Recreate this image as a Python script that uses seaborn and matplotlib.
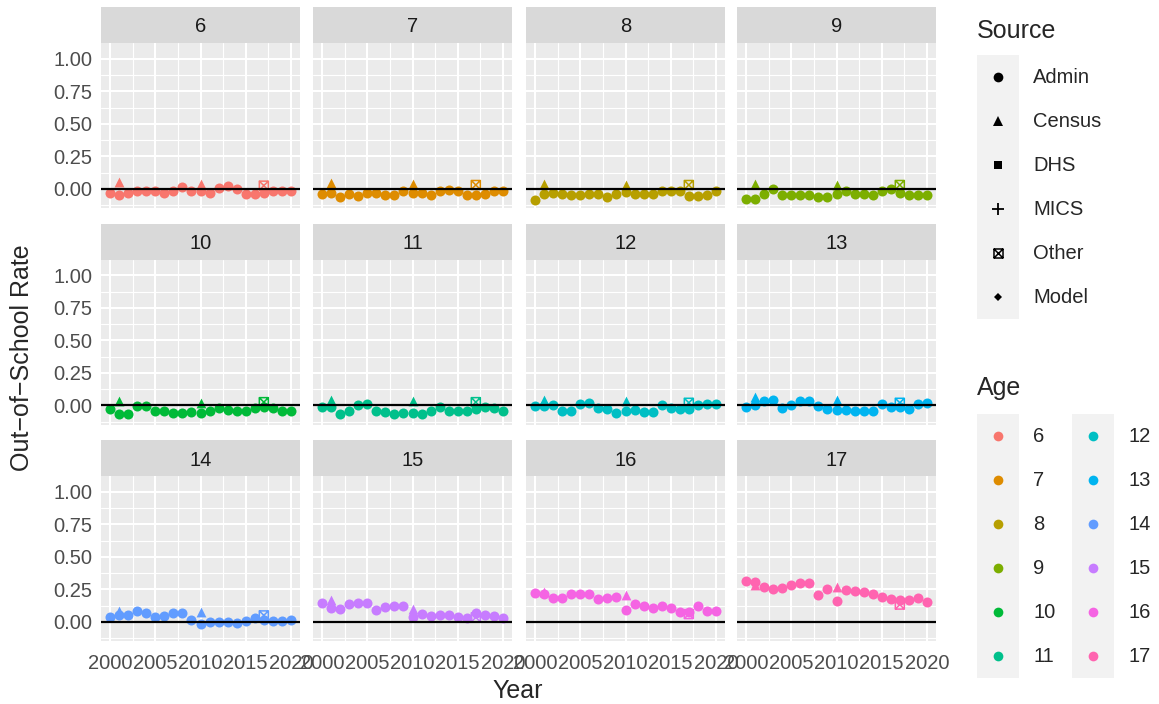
import numpy as np
import pandas as pd
import matplotlib
matplotlib.use("Agg")
import matplotlib.pyplot as plt
import seaborn as sns
from matplotlib.path import Path
from matplotlib.lines import Line2D
from matplotlib.patches import Rectangle
from matplotlib.legend_handler import HandlerBase

# ---------------------------------------------------------------- data
years = list(range(2000, 2021))
ages = [6, 7, 8, 9, 10, 11, 12, 13, 14, 15, 16, 17]

# administrative estimates, one value per year 2000-2020
admin_6 = [-0.028, -0.046, -0.033, -0.02, -0.02, -0.02, -0.033, -0.02, 0.013, -0.02, -0.02,
           -0.033, 0.01, 0.023, -0.003, -0.041, -0.041, -0.033, -0.02, -0.02, -0.02]
admin_7 = [-0.04, -0.035, -0.06, -0.04, -0.055, -0.035, -0.035, -0.05, -0.05, -0.015, -0.035,
           -0.035, -0.05, -0.02, -0.01, -0.02, -0.045, -0.045, -0.04, -0.015, -0.015]
admin_8 = [-0.085, -0.04, -0.035, -0.04, -0.05, -0.045, -0.04, -0.04, -0.06, -0.04, -0.025,
           -0.04, -0.04, -0.04, -0.02, -0.013, -0.02, -0.055, -0.055, -0.045, -0.02]
admin_9 = [-0.08, -0.08, -0.04, 0.0, -0.045, -0.045, -0.05, -0.05, -0.06, -0.065, -0.04,
           -0.013, -0.04, -0.04, -0.045, -0.02, -0.003, -0.03, -0.045, -0.045, -0.045]
admin_10 = [-0.025, -0.07, -0.07, -0.008, -0.008, -0.04, -0.045, -0.055, -0.055, -0.05, -0.06,
            -0.045, -0.018, -0.033, -0.04, -0.045, -0.018, -0.013, -0.018, -0.045, -0.045]
admin_11 = [-0.013, -0.013, -0.065, -0.04, 0.0, 0.013, -0.04, -0.05, -0.07, -0.06, -0.06,
            -0.065, -0.045, -0.013, -0.045, -0.04, -0.045, -0.025, -0.013, -0.018, -0.045]
admin_12 = [-0.008, -0.008, 0.0, -0.04, -0.04, 0.013, 0.02, -0.018, -0.025, -0.055, -0.04,
            -0.033, -0.05, -0.05, 0.0, -0.018, -0.025, -0.025, 0.0, 0.013, 0.008]
admin_13 = [-0.013, 0.005, 0.033, 0.045, -0.018, 0.005, 0.033, 0.033, -0.008, -0.025, -0.033,
            -0.033, -0.04, -0.04, -0.04, 0.013, -0.013, -0.013, -0.025, 0.013, 0.02]
admin_14 = [0.04, 0.05, 0.055, 0.08, 0.07, 0.035, 0.045, 0.07, 0.07, 0.015, -0.015,
            -0.003, -0.003, -0.003, -0.008, 0.005, 0.03, 0.015, 0.01, 0.003, 0.018]
admin_15 = [0.145, 0.11, 0.1, 0.135, 0.145, 0.145, 0.09, 0.115, 0.125, 0.12, 0.035,
            0.06, 0.045, 0.05, 0.055, 0.035, 0.03, 0.07, 0.05, 0.045, 0.03]
admin_16 = [0.223, 0.215, 0.185, 0.18, 0.215, 0.215, 0.215, 0.175, 0.18, 0.19, 0.095,
            0.14, 0.12, 0.11, 0.12, 0.105, 0.075, 0.075, 0.12, 0.087, 0.08]
admin_17 = [0.318, 0.305, 0.267, 0.255, 0.26, 0.285, 0.297, 0.297, 0.208, 0.25, 0.157,
            0.246, 0.236, 0.228, 0.215, 0.19, 0.177, 0.165, 0.17, 0.185, 0.15]
admin_by_age = [admin_6, admin_7, admin_8, admin_9, admin_10, admin_11,
                admin_12, admin_13, admin_14, admin_15, admin_16, admin_17]

# census rounds (2001, 2010) and one other survey (2017), listed by age 6..17
census_2001 = [0.05, 0.045, 0.035, 0.035, 0.03, 0.04, 0.045, 0.065, 0.085, 0.17, 0.23, 0.287]
census_2010 = [0.04, 0.04, 0.03, 0.03, 0.02, 0.035, 0.035, 0.045, 0.075, 0.10, 0.21, 0.27]
other_2017 = [0.025, 0.03, 0.03, 0.03, 0.025, 0.025, 0.02, 0.02, 0.05, 0.035, 0.06, 0.133]

source_labels = ["Admin", "Census", "DHS", "MICS", "Other", "Model"]
age_colors = ["#F8766D", "#DE8C00", "#B79F00", "#7CAE00", "#00BA38", "#00C08B",
              "#00BFC4", "#00B4F0", "#619CFF", "#C77CFF", "#F564E3", "#FF64B0"]

x_ticks = [2000, 2005, 2010, 2015, 2020]
x_minor = [2002.5, 2007.5, 2012.5, 2017.5]
y_ticks = [0.0, 0.25, 0.5, 0.75, 1.0]
y_minor = [-0.125, 0.125, 0.375, 0.625, 0.875]
y_tick_labels = ["0.00", "0.25", "0.50", "0.75", "1.00"]

rows = []
for age, vals in zip(ages, admin_by_age):
    for yr, v in zip(years, vals):
        rows.append((age, yr, v, "Admin"))
for age, c1, c2, o in zip(ages, census_2001, census_2010, other_2017):
    rows.append((age, 2001, c1, "Census"))
    rows.append((age, 2010, c2, "Census"))
    rows.append((age, 2017, o, "Other"))
df = pd.DataFrame(rows, columns=["Age", "Year", "Rate", "Source"])

# ---------------------------------------------------------------- style
sns.set_style("white")
plt.rcParams["font.family"] = ["Liberation Sans", "DejaVu Sans"]

W, H = 1159, 704
fig = plt.figure(figsize=(W / 100, H / 100), dpi=100)

col_left = [101, 313, 526, 737]
row_top = [43, 259.5, 476]
panel_w, panel_h, strip_h = 199, 165, 36

# square with a cross inside (open)
box_x = Path([(-1, -1), (1, -1), (1, 1), (-1, 1), (-1, -1), (-1, -1), (1, 1), (-1, 1), (1, -1)],
             [Path.MOVETO, Path.LINETO, Path.LINETO, Path.LINETO, Path.CLOSEPOLY,
              Path.MOVETO, Path.LINETO, Path.MOVETO, Path.LINETO])

tick_col = "#333333"
label_col = "#4D4D4D"

for i, age in enumerate(ages):
    r, c = divmod(i, 4)
    ax = fig.add_axes([col_left[c] / W, 1 - (row_top[r] + panel_h) / H, panel_w / W, panel_h / H])
    ax.set_facecolor("#EBEBEB")
    for s in ax.spines.values():
        s.set_visible(False)
    ax.set_xlim(1999.0, 2021.0)
    ax.set_ylim(-0.147, 1.122)
    ax.set_xticks(x_ticks)
    ax.set_xticks(x_minor, minor=True)
    ax.set_yticks(y_ticks)
    ax.set_yticks(y_minor, minor=True)
    ax.set_yticklabels(y_tick_labels)
    ax.grid(which="major", color="white", linewidth=1.5)
    ax.grid(which="minor", color="white", linewidth=0.8)
    ax.set_axisbelow(True)
    ax.tick_params(which="minor", length=0)
    ax.tick_params(which="major", length=3.8, width=0.85, color=tick_col,
                   labelsize=14.5, labelcolor=label_col)
    ax.tick_params(axis="y", pad=2.5)
    ax.tick_params(axis="x", pad=5.5)
    if c != 0:
        ax.tick_params(axis="y", length=0, labelleft=False)
    if r != 2:
        ax.tick_params(axis="x", length=0, labelbottom=False)

    col = age_colors[i]
    sub = df[df["Age"] == age]
    sns.scatterplot(data=sub[sub["Source"] == "Admin"], x="Year", y="Rate", color=col,
                    marker="o", s=52, linewidth=0, ax=ax, legend=False)
    sns.scatterplot(data=sub[sub["Source"] == "Census"], x="Year", y="Rate", color=col,
                    marker="^", s=50, linewidth=0, ax=ax, legend=False)
    sns.scatterplot(data=sub[sub["Source"] == "Other"], x="Year", y="Rate", color=col,
                    marker=box_x, s=42, facecolor="none", edgecolor=col, linewidth=1.1,
                    ax=ax, legend=False)
    ax.axhline(0, color="black", linewidth=1.6, zorder=3)
    ax.set_xlabel("")
    ax.set_ylabel("")

    # facet strip
    ax.add_patch(Rectangle((0, 1), 1, strip_h / panel_h, transform=ax.transAxes,
                           facecolor="#D9D9D9", edgecolor="none", clip_on=False))
    ax.text(0.5, 1 + (strip_h / 2 - 2) / panel_h, str(age), transform=ax.transAxes,
            ha="center", va="center", fontsize=14.5, color="#1A1A1A")

fig.text(22 / W, 1 - 358 / H, "Out\u2212of\u2212School Rate", rotation=90,
         ha="center", va="center", fontsize=18)
fig.text(518 / W, 1 - 691 / H, "Year", ha="center", va="center", fontsize=18)


# ---------------------------------------------------------------- legends
class KeyHandler(HandlerBase):
    def create_artists(self, legend, orig_handle, xdescent, ydescent, width, height,
                       fontsize, trans):
        bg = Rectangle((-xdescent, -ydescent), width, height, facecolor="#F2F2F2",
                       edgecolor="none", transform=trans)
        mk = Line2D([width / 2 - xdescent], [height / 2 - ydescent],
                    marker=orig_handle.get_marker(),
                    markersize=orig_handle.get_markersize(),
                    markerfacecolor=orig_handle.get_markerfacecolor(),
                    markeredgecolor=orig_handle.get_markeredgecolor(),
                    markeredgewidth=orig_handle.get_markeredgewidth(),
                    linestyle="none", transform=trans)
        return [bg, mk]


def key(marker, size, color="black", face=None, mew=0.0):
    return Line2D([], [], marker=marker, markersize=size, linestyle="none",
                  markerfacecolor=color if face is None else face,
                  markeredgecolor=color, markeredgewidth=mew)


source_handles = [key("o", 7.0), key("^", 7.0), key("s", 6.3),
                  key("+", 8.5, mew=1.3), key(box_x, 6.5, face="none", mew=1.1),
                  key("D", 4.3)]
age_handles = [key("o", 7.0, color=c) for c in age_colors]

leg_kw = dict(loc="upper left", frameon=False, borderpad=0, borderaxespad=0,
              labelspacing=0, handlelength=2.085, handleheight=2.985,
              handletextpad=0.7, fontsize=14.5,
              handler_map={Line2D: KeyHandler()})

fig.legend(source_handles, source_labels, bbox_to_anchor=(977 / W, 1 - 55 / H), **leg_kw)
fig.legend(age_handles, [str(a) for a in ages], ncols=2, columnspacing=0.83,
           bbox_to_anchor=(977 / W, 1 - 414 / H), **leg_kw)
fig.text(977 / W, 1 - 31 / H, "Source", ha="left", va="center", fontsize=18)
fig.text(977 / W, 1 - 388 / H, "Age", ha="left", va="center", fontsize=18)

fig.savefig("out.png", dpi=100, facecolor="white")
